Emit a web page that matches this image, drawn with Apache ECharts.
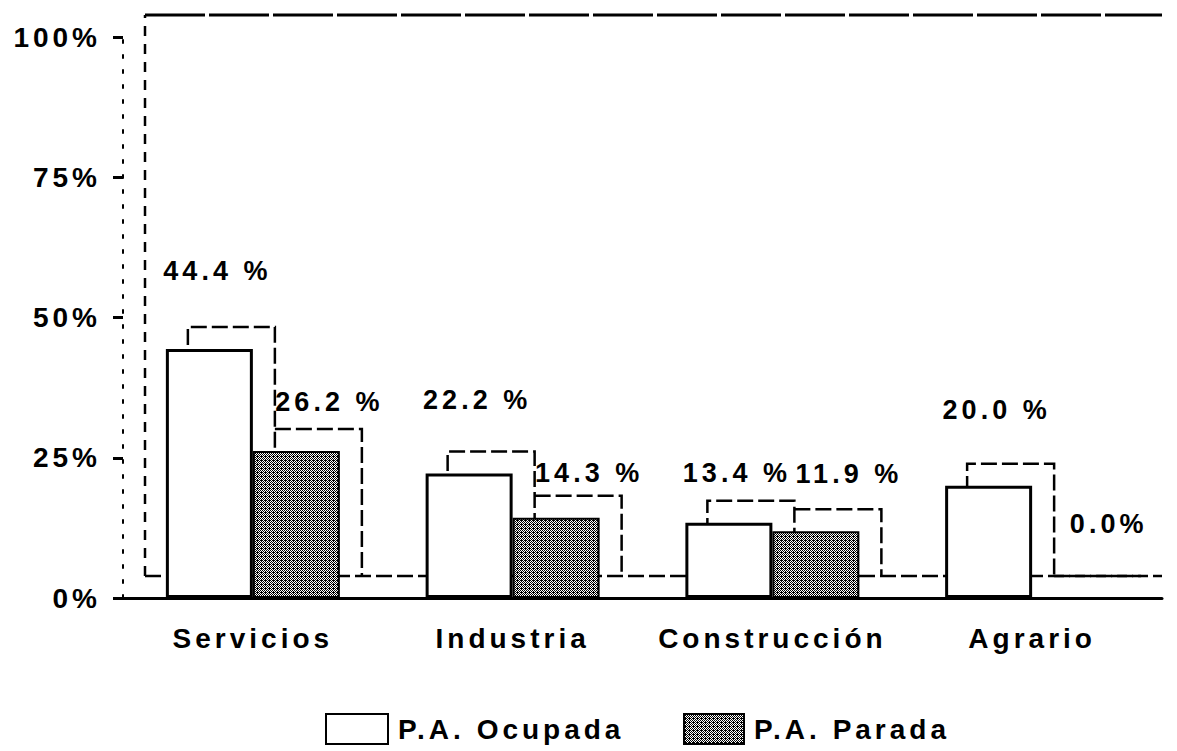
<!DOCTYPE html>
<html>
<head>
<meta charset="utf-8">
<title>Población activa por sector</title>
<script src="https://cdn.jsdelivr.net/npm/echarts@6/dist/echarts.min.js"></script>
<style>
  html, body { margin: 0; padding: 0; background: #fff; }
  #chart { width: 1177px; height: 751px; }
  /* el original escaneado tiene las letras muy espaciadas */
  #chart text { letter-spacing: 4px; }
</style>
</head>
<body>
<div id="chart"></div>
<script>
// categorías del eje x
var sectores = ['Servicios', 'Industria', 'Construcción', 'Agrario'];
// porcentajes de cada serie
var ocupada = [44.4, 22.2, 13.4, 20.0];
var parada = [26.2, 14.3, 11.9, 0.0];
// escala del eje y
var yMin = 0;
var yMax = 100;
var yPaso = 25;

var FUENTE = '"Liberation Sans", Arial, sans-serif';
// desplazamiento del falso 3D (fondo de las barras)
var DX = 22, DY = -22;
var ANCHO = 87;

// trama gris tipo semitono para la serie "Parada"
function tramaGris() {
  var c = document.createElement('canvas');
  c.width = 4; c.height = 4;
  var ctx = c.getContext('2d');
  var bayer = [[0, 8, 2, 10], [12, 4, 14, 6], [3, 11, 1, 9], [15, 7, 13, 5]];
  ctx.fillStyle = '#fff';
  ctx.fillRect(0, 0, 4, 4);
  ctx.fillStyle = '#000';
  for (var y = 0; y < 4; y++) {
    for (var x = 0; x < 4; x++) {
      if (bayer[y][x] < 9) ctx.fillRect(x, y, 1, 1);
    }
  }
  return c;
}
var trama = { image: tramaGris(), repeat: 'repeat', imageWidth: 4, imageHeight: 4 };

function formatoPct(p) {
  var v = p.value;
  return v === 0 ? v.toFixed(1) + '%' : v.toFixed(1) + ' %';
}

// contorno trasero de las barras + paredes del gráfico
function fondo3d(params, api) {
  var cat = api.value(0);
  var base = api.coord([cat, 0]);
  var c = base[0];
  var y0 = base[1] + DY;
  var yO = api.coord([cat, api.value(1)])[1] + DY;
  var yP = api.coord([cat, api.value(2)])[1] + DY;
  var trazo = { stroke: '#000', lineWidth: 2.5, lineDash: [16, 5], fill: null };
  var hijos = [
    { type: 'polyline', shape: { points: [[c - ANCHO + DX, y0], [c - ANCHO + DX, yO], [c + DX, yO], [c + DX, y0]] }, style: trazo },
    { type: 'polyline', shape: { points: [[c + DX, yP], [c + ANCHO + DX, yP], [c + ANCHO + DX, y0]] }, style: trazo }
  ];
  if (params.dataIndex === 0) {
    var cs = params.coordSys;
    var techo = api.coord([cat, yMax])[1] + DY;
    hijos.push(
      { type: 'line', shape: { x1: cs.x + DX, y1: y0, x2: cs.x + DX, y2: techo }, style: { stroke: '#000', lineWidth: 2.5, lineDash: [10, 8] } },
      { type: 'line', shape: { x1: cs.x + DX, y1: techo, x2: cs.x + cs.width, y2: techo }, style: { stroke: '#000', lineWidth: 3, lineDash: [60, 4] } },
      { type: 'line', shape: { x1: cs.x + DX, y1: y0, x2: cs.x + cs.width, y2: y0 }, style: trazo }
    );
  }
  return { type: 'group', children: hijos };
}

var distOcupada = [64, 60, 36, 62];
var distParada = [36, 31, 44, 60];

var textoLeyenda = { fontSize: 28, fontWeight: 'bold', color: '#000', fontFamily: FUENTE, padding: [0, 0, 0, 5] };

var option = {
  animation: false,
  backgroundColor: '#fff',
  textStyle: { fontFamily: FUENTE, color: '#000' },
  grid: { left: 123, right: 15, top: 37, bottom: 153 },
  legend: [
    {
      data: ['P.A. Ocupada'], left: 325, top: 713, padding: 0, icon: 'rect',
      itemWidth: 62, itemHeight: 30,
      textStyle: textoLeyenda
    },
    {
      data: ['P.A. Parada'], left: 683, top: 713, padding: 0, icon: 'rect',
      itemWidth: 60, itemHeight: 30,
      textStyle: textoLeyenda
    }
  ],
  xAxis: {
    type: 'category',
    data: sectores,
    axisLine: { lineStyle: { color: '#000', width: 3 } },
    axisTick: { alignWithLabel: true, length: 8, lineStyle: { color: '#000', width: 2 } },
    axisLabel: { interval: 0, margin: 26, fontSize: 28, fontWeight: 'bold', color: '#000', fontFamily: FUENTE }
  },
  yAxis: {
    type: 'value',
    min: yMin, max: yMax, interval: yPaso,
    splitLine: { show: false },
    axisLine: { show: true, lineStyle: { color: '#000', width: 2, type: [3, 12] } },
    axisTick: { show: true, length: 10, lineStyle: { color: '#000', width: 3 } },
    axisLabel: { formatter: '{value}%', margin: 22, fontSize: 28, fontWeight: 'bold', color: '#000', fontFamily: FUENTE }
  },
  series: [
    {
      type: 'custom',
      z: 1,
      silent: true,
      renderItem: fondo3d,
      encode: { x: 0, y: 1 },
      data: sectores.map(function (s, i) { return [i, ocupada[i], parada[i]]; })
    },
    {
      name: 'P.A. Ocupada',
      type: 'bar',
      z: 3,
      barWidth: ANCHO,
      barGap: '0%',
      itemStyle: { color: '#fff', borderColor: '#000', borderWidth: 3 },
      label: { show: true, position: 'top', offset: [8, 0], formatter: formatoPct, fontSize: 27, fontWeight: 'bold', color: '#000', fontFamily: FUENTE },
      data: ocupada.map(function (v, i) { return { value: v, label: { distance: distOcupada[i] } }; })
    },
    {
      name: 'P.A. Parada',
      type: 'bar',
      z: 3,
      barWidth: ANCHO,
      barGap: '0%',
      itemStyle: { color: trama, borderColor: '#000', borderWidth: 2 },
      label: { show: true, position: 'top', offset: [33, 0], formatter: formatoPct, fontSize: 27, fontWeight: 'bold', color: '#000', fontFamily: FUENTE },
      data: parada.map(function (v, i) { return { value: v, label: { distance: distParada[i] } }; })
    }
  ]
};

var grafico = echarts.init(document.getElementById('chart'), null, { renderer: 'svg' });
grafico.setOption(option);
</script>
</body>
</html>
